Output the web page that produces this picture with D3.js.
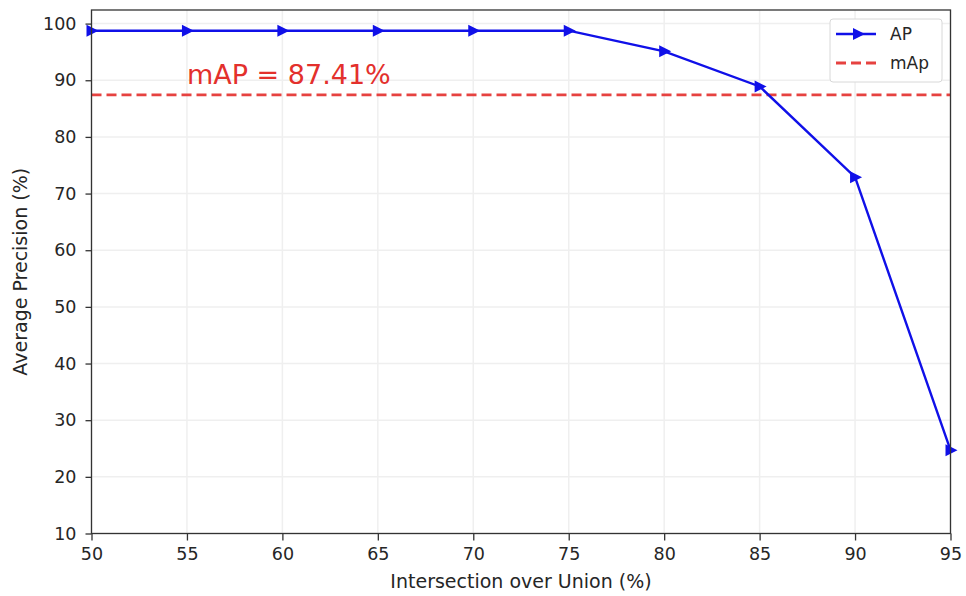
<!DOCTYPE html>
<html>
<head>
<meta charset="utf-8">
<script src="https://cdn.jsdelivr.net/npm/d3@7"></script>
<style>
  body { margin: 0; background: #fff; }
  svg text { font-family: "DejaVu Sans", sans-serif; }
</style>
</head>
<body>
<div id="chart"></div>
<script>
// datos
var iou = [50, 55, 60, 65, 70, 75, 80, 85, 90, 95];
var ap = [98.75, 98.75, 98.75, 98.75, 98.75, 98.75, 95.1, 88.9, 72.9, 24.7];
var mAP = 87.41;
var xTicks = [50, 55, 60, 65, 70, 75, 80, 85, 90, 95];
var yTicks = [10, 20, 30, 40, 50, 60, 70, 80, 90, 100];

var width = 966, height = 596;
var margin = { left: 91.5, right: 15.5, top: 10, bottom: 62.5 };

var svg = d3.select("#chart").append("svg")
  .attr("width", width)
  .attr("height", height);

var x = d3.scaleLinear().domain([50, 95]).range([margin.left, width - margin.right]);
var y = d3.scaleLinear().domain([10, 102.4]).range([height - margin.bottom, margin.top]);

// grid
svg.append("g").selectAll("line.gx")
  .data(xTicks).enter().append("line")
  .attr("x1", function(d) { return x(d); }).attr("x2", function(d) { return x(d); })
  .attr("y1", margin.top).attr("y2", height - margin.bottom)
  .style("stroke", "#efefef").style("stroke-width", 1.5);
svg.append("g").selectAll("line.gy")
  .data(yTicks).enter().append("line")
  .attr("y1", function(d) { return y(d); }).attr("y2", function(d) { return y(d); })
  .attr("x1", margin.left).attr("x2", width - margin.right)
  .style("stroke", "#efefef").style("stroke-width", 1.5);

// ejes
var xAxis = svg.append("g")
  .attr("transform", "translate(0," + (height - margin.bottom) + ")")
  .call(d3.axisBottom(x).tickValues(xTicks).tickSize(7).tickPadding(7).tickFormat(d3.format("d")));
var yAxis = svg.append("g")
  .attr("transform", "translate(" + margin.left + ",0)")
  .call(d3.axisLeft(y).tickValues(yTicks).tickSize(6).tickPadding(9).tickFormat(d3.format("d")));
[xAxis, yAxis].forEach(function(a) {
  a.select(".domain").remove();
  a.selectAll("line").style("stroke", "#333").style("stroke-width", 1.3);
  a.selectAll("text").style("font-size", "17.5px").style("fill", "#262626");
});

// linea mAP
svg.append("line")
  .attr("x1", margin.left).attr("x2", width - margin.right)
  .attr("y1", y(mAP)).attr("y2", y(mAP))
  .style("stroke", "#e64240").style("stroke-width", 2.8)
  .style("stroke-dasharray", "10,5");

svg.append("text")
  .attr("x", x(55)).attr("y", y(mAP + 2))
  .style("font-size", "27px").style("fill", "#e3302c")
  .text("mAP = " + mAP.toFixed(2) + "%");

// linea AP
var line = d3.line()
  .x(function(d, i) { return x(iou[i]); })
  .y(function(d) { return y(d); });
svg.append("path")
  .datum(ap)
  .attr("d", line)
  .style("fill", "none").style("stroke", "#1010e8").style("stroke-width", 2.4);

var tri = "M-5,-6L7,0L-5,6Z";
svg.append("g").selectAll("path")
  .data(ap).enter().append("path")
  .attr("transform", function(d, i) { return "translate(" + x(iou[i]) + "," + y(d) + ")"; })
  .attr("d", tri)
  .style("fill", "#1010e8");

// marco
svg.append("rect")
  .attr("x", margin.left).attr("y", margin.top)
  .attr("width", width - margin.left - margin.right)
  .attr("height", height - margin.top - margin.bottom)
  .style("fill", "none").style("stroke", "#333").style("stroke-width", 1.3);

// leyenda
var lg = svg.append("g").attr("transform", "translate(830,19)");
lg.append("rect").attr("width", 112).attr("height", 63).attr("rx", 3)
  .style("fill", "#fff").style("stroke", "#d8d8d8").style("stroke-width", 1);
lg.append("line").attr("x1", 6).attr("x2", 46).attr("y1", 15).attr("y2", 15)
  .style("stroke", "#1010e8").style("stroke-width", 2.4);
lg.append("path").attr("transform", "translate(28,15)").attr("d", tri).style("fill", "#1010e8");
lg.append("text").attr("x", 60).attr("y", 21).style("font-size", "17px").style("fill", "#262626").text("AP");
lg.append("line").attr("x1", 6).attr("x2", 46).attr("y1", 44).attr("y2", 44)
  .style("stroke", "#e64240").style("stroke-width", 2.8).style("stroke-dasharray", "10,5");
lg.append("text").attr("x", 60).attr("y", 50).style("font-size", "17px").style("fill", "#262626").text("mAp");

// titulos de ejes
svg.append("text")
  .attr("x", (margin.left + width - margin.right) / 2).attr("y", 588)
  .attr("text-anchor", "middle")
  .style("font-size", "19px").style("fill", "#262626")
  .text("Intersection over Union (%)");
svg.append("text")
  .attr("transform", "translate(27," + ((margin.top + height - margin.bottom) / 2) + ") rotate(-90)")
  .attr("text-anchor", "middle")
  .style("font-size", "19px").style("fill", "#262626")
  .text("Average Precision (%)");
</script>
</body>
</html>
